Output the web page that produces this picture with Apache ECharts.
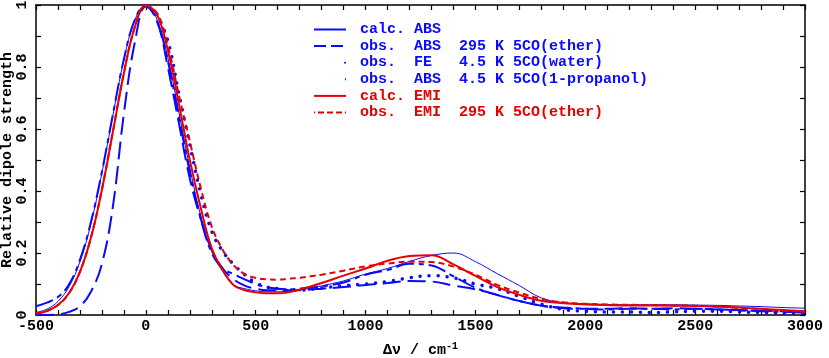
<!DOCTYPE html>
<html>
<head>
<meta charset="utf-8">
<title>Relative dipole strength</title>
<script src="https://cdn.jsdelivr.net/npm/echarts@6/dist/echarts.min.js"></script>
<style>
	html,body{margin:0;padding:0;background:#fff;}
	#chart{width:829px;height:358px;}
</style>
</head>
<body>
<div id="chart"></div>
<script>
	// x grid (cm-1)
	const xs = [-500,-450,-400,-350,-300,-250,-200,-150,-100,-50,0,50,100,150,200,250,300,350,400,450,500,550,600,650,700,750,800,
		900,1000,1100,1200,1300,1400,1500,1600,1700,1800,1900,2000,2100,2200,2300,2400,2500,2600,2700,2800,2900,3000];

	// calc. ABS
	const calcAbs = [0.008,0.019,0.044,0.091,0.172,0.295,0.458,0.644,0.823,0.952,1.0,
		0.954,0.83,0.655,0.475,0.32,0.205,0.14,0.097,0.085,0.078,0.075,0.075,0.077,0.081,0.087,0.094,
		0.11,0.132,0.15,0.173,0.192,0.2,0.172,0.133,0.095,0.055,0.04,0.036,0.034,0.033,0.033,0.033,0.032,0.031,0.029,0.027,0.024,0.022];
	// obs. ABS 295 K 5CO(ether)
	const obsAbsEther = [0,0,0.002,0.01,0.028,0.075,0.165,0.35,0.65,0.88,0.995,
		0.95,0.8,0.62,0.44,0.31,0.21,0.15,0.115,0.095,0.085,0.08,0.08,0.08,0.08,0.082,0.085,
		0.09,0.097,0.103,0.11,0.108,0.095,0.083,0.065,0.045,0.03,0.022,0.02,0.02,0.022,0.02,0.022,0.02,0.018,0.016,0.014,0.012,0.01];
	// obs. FE 4.5 K 5CO(water)
	const obsFeWater = [null,null,null,null,null,null,null,null,null,null,null,
		0.97,0.885,0.715,0.55,0.39,0.27,0.205,0.163,0.13,0.104,0.09,0.085,0.08,0.08,0.083,0.087,
		0.095,0.1,0.108,0.12,0.127,0.12,0.1,0.085,0.06,0.035,0.018,0.012,0.01,0.01,0.008,0.01,0.012,0.012,0.01,0.008,0.006,0.005];
	// obs. ABS 4.5 K 5CO(1-propanol)
	const obsAbsPropanol = [0.028,0.04,0.058,0.098,0.178,0.3,0.462,0.647,0.825,0.953,1.0,
		0.95,0.82,0.64,0.46,0.31,0.2,0.15,0.132,0.115,0.1,0.09,0.085,0.083,0.085,0.088,0.092,
		0.105,0.13,0.145,0.165,0.16,0.125,0.088,0.064,0.045,0.03,0.024,0.02,0.018,0.02,0.02,0.018,0.02,0.018,0.015,0.012,0.01,0.008];
	// calc. EMI
	const calcEmi = [0.005,0.013,0.032,0.07,0.139,0.249,0.404,0.591,0.78,0.929,0.998,
		0.97,0.854,0.682,0.5,0.345,0.215,0.145,0.096,0.08,0.073,0.07,0.07,0.073,0.082,0.092,0.103,
		0.127,0.15,0.175,0.19,0.193,0.163,0.126,0.09,0.065,0.046,0.038,0.034,0.032,0.031,0.031,0.03,0.029,0.027,0.024,0.02,0.016,0.012];
	// obs. EMI 295 K 5CO(ether)
	const obsEmiEther = [0.005,0.013,0.032,0.07,0.139,0.25,0.405,0.592,0.78,0.93,0.998,
		0.975,0.87,0.71,0.56,0.41,0.285,0.21,0.16,0.132,0.12,0.115,0.114,0.117,0.12,0.125,0.13,
		0.143,0.157,0.166,0.172,0.171,0.156,0.13,0.097,0.072,0.052,0.041,0.036,0.034,0.033,0.032,0.031,0.03,0.027,0.023,0.019,0.014,0.01];

	const seriesNames = [
		'calc. ABS',
		'obs.  ABS  295 K 5CO(ether)',
		'obs.  FE   4.5 K 5CO(water)',
		'obs.  ABS  4.5 K 5CO(1-propanol)',
		'calc. EMI',
		'obs.  EMI  295 K 5CO(ether)'
	];

	const blue = '#0a0aff';
	const red = '#e60000';
	const font = '"Liberation Mono", "DejaVu Sans Mono", monospace';

	const pairs = function(ys){
		return xs.map((x,i) => [x, ys[i]]).filter(p => p[1] != null);
	};

	const lineSeries = function(name, ys, color, width, type, cap){
		return {
			name: name,
			type: 'line',
			data: pairs(ys),
			smooth: 0.4,
			symbol: 'none',
			clip: true,
			itemStyle: {color: color},
			lineStyle: {color: color, width: width, type: type, cap: cap || 'butt'}
		};
	};

	const chart = echarts.init(document.getElementById('chart'), null, {renderer: 'canvas'});

	const tickStyle = {show: true, inside: true, length: 5, lineStyle: {color: '#000', width: 1.2}};
	const lineAxis = {show: true, onZero: false, lineStyle: {color: '#000', width: 1.5}};

	const option = {
		backgroundColor: '#fff',
		animation: false,
		grid: {left: 36, right: 24, top: 5, bottom: 43, containLabel: false, outerBoundsMode: 'none'},
		legend: {
			orient: 'vertical',
			left: 313,
			top: 22,
			padding: 0,
			itemWidth: 32,
			itemHeight: 14,
			itemGap: 1.6,
			selectedMode: false,
			itemStyle: {opacity: 0},
			formatter: function(name){ return ' ' + name; },
			textStyle: {fontFamily: font, fontSize: 15, fontWeight: 'bold'},
			data: [
				{name: seriesNames[0], textStyle: {color: blue}},
				{name: seriesNames[1], textStyle: {color: blue}, lineStyle: {type: [12, 5]}},
				{name: seriesNames[2], textStyle: {color: blue}, lineStyle: {type: [0.01, 100], dashOffset: -31}},
				{name: seriesNames[3], textStyle: {color: blue}, lineStyle: {type: [20, 4, 6, 100]}},
				{name: seriesNames[4], textStyle: {color: red}},
				{name: seriesNames[5], textStyle: {color: red}, lineStyle: {type: [6, 3]}}
			]
		},
		xAxis: [{
			type: 'value',
			min: -500,
			max: 3000,
			interval: 100,
			position: 'bottom',
			name: 'Δν / cm{sup|-1}',
			nameLocation: 'middle',
			nameGap: 26,
			nameMoveOverlap: false,
			nameTextStyle: {
				fontFamily: font, fontSize: 15, fontWeight: 'bold', color: '#000',
				rich: {sup: {fontFamily: font, fontSize: 10, fontWeight: 'bold', color: '#000', verticalAlign: 'top', padding: [0,0,8,0]}}
			},
			axisLine: lineAxis,
			axisTick: tickStyle,
			splitLine: {show: false},
			axisLabel: {
				margin: 4,
				fontFamily: font, fontSize: 15, fontWeight: 'bold', color: '#000',
				formatter: function(v){ return v % 500 === 0 ? String(v) : ''; }
			}
		},{
			type: 'value',
			min: -500,
			max: 3000,
			interval: 100,
			position: 'top',
			axisLine: lineAxis,
			axisTick: tickStyle,
			axisLabel: {show: false},
			splitLine: {show: false}
		}],
		yAxis: [{
			type: 'value',
			min: 0,
			max: 1,
			interval: 0.1,
			position: 'left',
			name: 'Relative dipole strength',
			nameLocation: 'middle',
			nameGap: 21,
			nameMoveOverlap: false,
			nameTextStyle: {fontFamily: font, fontSize: 15, fontWeight: 'bold', color: '#000'},
			axisLine: lineAxis,
			axisTick: tickStyle,
			splitLine: {show: false},
			axisLabel: {
				rotate: 90,
				margin: 6,
				fontFamily: font, fontSize: 15, fontWeight: 'bold', color: '#000',
				formatter: function(v){
					let k = Math.round(v * 10);
					if(k % 2 !== 0) return '';
					return k === 0 ? '0' : (k === 10 ? '1' : (k / 10).toFixed(1));
				}
			}
		},{
			type: 'value',
			min: 0,
			max: 1,
			interval: 0.1,
			position: 'right',
			axisLine: lineAxis,
			axisTick: tickStyle,
			axisLabel: {show: false},
			splitLine: {show: false}
		}],
		series: [
			lineSeries(seriesNames[0], calcAbs, blue, 1, 'solid'),
			lineSeries(seriesNames[1], obsAbsEther, blue, 2, [18, 7]),
			lineSeries(seriesNames[2], obsFeWater, blue, 3.5, [0.01, 9], 'round'),
			lineSeries(seriesNames[3], obsAbsPropanol, blue, 2, [18, 5, 5, 5]),
			lineSeries(seriesNames[4], calcEmi, red, 2, 'solid'),
			lineSeries(seriesNames[5], obsEmiEther, red, 2, [6, 4])
		]
	};

	chart.setOption(option);
</script>
</body>
</html>
